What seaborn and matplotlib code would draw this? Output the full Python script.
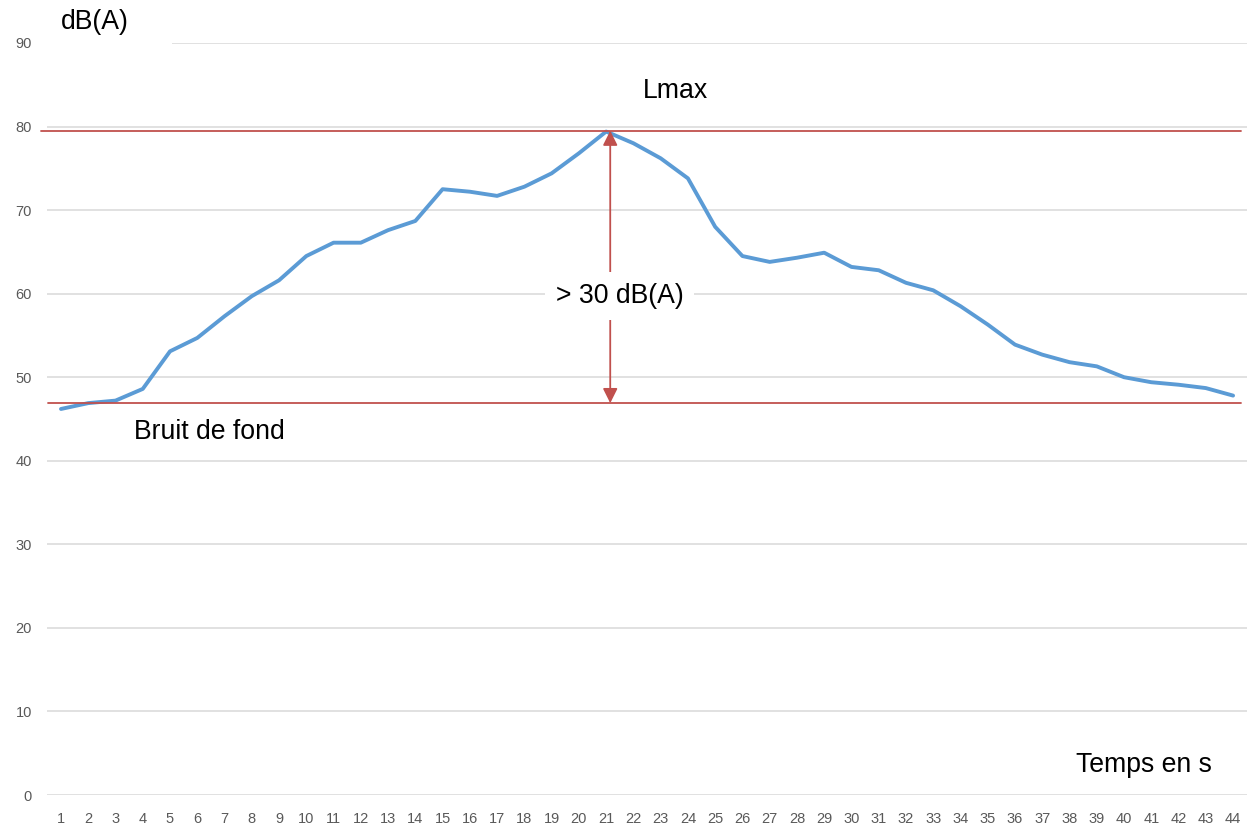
import matplotlib
matplotlib.use("Agg")
import matplotlib.pyplot as plt
import seaborn as sns
import pandas as pd
from matplotlib.patches import Rectangle

# Sound level measured each second during a pass-by
seconds = list(range(1, 45))
levels = [46.2, 46.9, 47.2, 48.6, 53.1, 54.7, 57.3, 59.7, 61.6, 64.5,
          66.1, 66.1, 67.6, 68.7, 72.5, 72.2, 71.7, 72.8, 74.4, 76.8,
          79.4, 78.0, 76.2, 73.8, 68.0, 64.5, 63.8, 64.3, 64.9, 63.2,
          62.8, 61.3, 60.4, 58.5, 56.3, 53.9, 52.7, 51.8, 51.3, 50.0,
          49.4, 49.1, 48.7, 47.8]
y_ticks = [0, 10, 20, 30, 40, 50, 60, 70, 80, 90]

lmax_level = 79.5
background_level = 46.9
peak_second = 21.15

df = pd.DataFrame({"Temps": seconds, "Niveau": levels})

sns.set_theme(style="white")
plt.rcParams["font.family"] = ["Liberation Sans", "DejaVu Sans"]
tick_font = ["Liberation Sans Narrow", "Liberation Sans", "DejaVu Sans"]

fig = plt.figure(figsize=(12.56, 8.25), dpi=100)
ax = fig.add_axes([0.0377, 0.03636, 0.9549, 0.91154])

red = "#c0504d"
grid_color = "#d9d9d9"
label_size = 19.2

for v in y_ticks:
    ax.axhline(v, color=grid_color, lw=1.1, zorder=0)

sns.lineplot(data=df, x="Temps", y="Niveau", ax=ax, color="#5b9bd5",
             lw=2.8, zorder=3)

ax.set_xlim(0.5, 44.5)
ax.set_ylim(0, 90)
ax.set_xticks(seconds)
ax.set_xticklabels([str(s) for s in seconds])
ax.set_yticks(y_ticks)
ax.set_yticklabels([str(v) for v in y_ticks])
ax.set_xlabel("")
ax.set_ylabel("")
for s in ax.spines.values():
    s.set_visible(False)
ax.tick_params(axis="x", length=0, pad=12, labelsize=10.5, labelcolor="#595959")
ax.tick_params(axis="y", length=0, pad=11, labelsize=10.5, labelcolor="#595959")
for lab in ax.get_xticklabels() + ax.get_yticklabels():
    lab.set_family(tick_font)

# Reference levels
ax.plot([0.27, 44.28], [lmax_level, lmax_level], color=red, lw=1.3,
        zorder=4, clip_on=False)
ax.plot([0.52, 44.28], [background_level, background_level], color=red,
        lw=1.3, zorder=4, clip_on=False)

# Double arrow between background noise and Lmax
ax.annotate("", xy=(peak_second, lmax_level),
            xytext=(peak_second, background_level),
            arrowprops=dict(arrowstyle="<|-|>", color=red, lw=1.3,
                            mutation_scale=22, shrinkA=0, shrinkB=0),
            zorder=5)
ax.text(21.5, 59.7, "> 30 dB(A)", ha="center", va="center",
        fontsize=label_size, color="black", zorder=6,
        bbox=dict(boxstyle="square,pad=0.4", fc="white", ec="none"))

ax.text(22.35, 84.3, "Lmax", ha="left", va="center", fontsize=label_size,
        color="black", zorder=6)
ax.text(3.68, 43.4, "Bruit de fond", ha="left", va="center",
        fontsize=label_size, color="black", zorder=6)
ax.text(38.24, 3.6, "Temps en s", ha="left", va="center",
        fontsize=label_size, color="black", zorder=6)

# Axis title box over the top-left corner
ax.add_patch(Rectangle((0, 0.985), 0.104, 0.06, transform=ax.transAxes,
                       fc="white", ec="none", clip_on=False, zorder=2))
fig.text(61 / 1256, 1 - 22 / 825, "dB(A)", ha="left", va="center",
         fontsize=label_size, color="black")

fig.savefig("out.png", dpi=100, facecolor="white")
